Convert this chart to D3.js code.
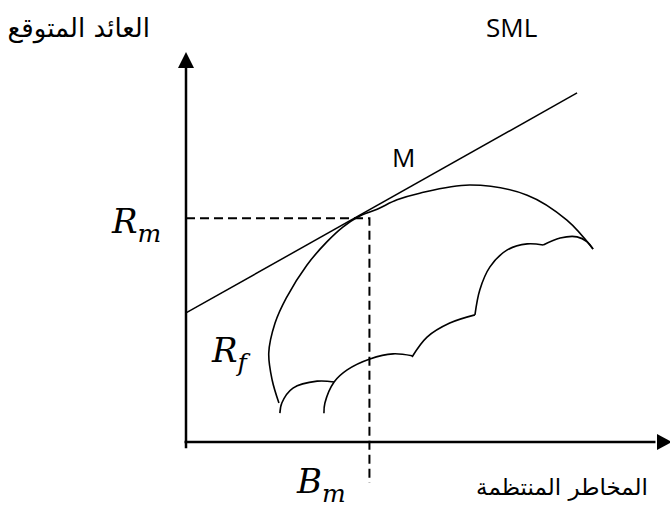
<!DOCTYPE html>
<html>
<head>
<meta charset="utf-8">
<script src="https://cdn.jsdelivr.net/npm/d3@7"></script>
<style>
    body { margin: 0; background: #fff; }
    .arabic { font-family: "DejaVu Sans", sans-serif; fill: #000; }
    .latin { font-family: "Open Sans", sans-serif; fill: #000; }
    .math { font-family: "DejaVu Serif", serif; font-style: italic; fill: #000; }
</style>
</head>
<body>
<script>
// risk (x) and expected return (y) in arbitrary units 0..100

var smlLine = [[0, 33.1], [80.8, 89.5]];

var rf = 33.1, rm = 57.4, bm = 37.9;

//efficient frontier, from bottom left over the top to the tip
var frontier = [
    [19.2, 10.0], [17.8, 15.9], [17.1, 22.8], [18.4, 30.5], [20.7, 36.9],
    [25.0, 45.4], [29.1, 51.3], [32.4, 55.1], [35.5, 57.7], [39.5, 59.7],
    [43.6, 62.1], [48.3, 63.8], [58.7, 65.9], [70.5, 63.3], [78.7, 56.9],
    [84.1, 49.5]
];

//lower scalloped boundary of the feasible set, one array per arc
var arcA = [[84.1, 49.5], [82.9, 51.3], [80.8, 52.6], [77.3, 52.3], [73.8, 50.5]];
var arcB = [[73.8, 50.5], [70.5, 50.8], [66.3, 49.2], [62.8, 44.9], [60.7, 39.0], [59.7, 32.6]];
var arcC = [[59.7, 32.6], [54.5, 30.5], [49.8, 26.9], [46.7, 21.8]];
var arcD = [[46.7, 22.1], [42.8, 22.6], [38.0, 21.3], [33.3, 18.5], [30.6, 15.4], [28.7, 10.0], [28.5, 7.4]];
var arcE = [[30.6, 15.4], [27.1, 15.6], [22.1, 13.8], [19.8, 10.0], [19.4, 7.4]];

var yTitle = "العائد المتوقع";
var xTitle = "المخاطر المنتظمة";

window.onload = function(){

    var w = 670, h = 509;

    var x = d3.scaleLinear()
        .domain([0, 100])
        .range([186, 670]);

    var y = d3.scaleLinear()
        .domain([0, 100])
        .range([442, 52]);

    var svg = d3.select("body")
        .append("svg")
        .attr("width", w)
        .attr("height", h);

    var line = d3.line()
        .x(function(d){ return x(d[0]); })
        .y(function(d){ return y(d[1]); });

    var smooth = d3.line()
        .x(function(d){ return x(d[0]); })
        .y(function(d){ return y(d[1]); })
        .curve(d3.curveCatmullRom.alpha(0.5));

    //axes
    svg.append("line")
        .attr("x1", x(0)).attr("y1", y(-1.6))
        .attr("x2", x(0)).attr("y2", y(96))
        .style("stroke", "#000")
        .style("stroke-width", 2.5);

    svg.append("line")
        .attr("x1", x(-0.3)).attr("y1", y(0))
        .attr("x2", x(97)).attr("y2", y(0))
        .style("stroke", "#000")
        .style("stroke-width", 2.5);

    //arrow heads
    svg.append("path")
        .attr("d", "M" + x(0) + "," + y(100) +
            "L" + (x(0) - 8) + "," + (y(100) + 16) +
            "L" + (x(0) + 8) + "," + (y(100) + 16) + "Z")
        .style("fill", "#000");

    svg.append("path")
        .attr("d", "M" + (x(100) + 2) + "," + y(0) +
            "L" + (x(100) - 13) + "," + (y(0) - 8) +
            "L" + (x(100) - 13) + "," + (y(0) + 8) + "Z")
        .style("fill", "#000");

    //dashed guides to the market portfolio
    svg.append("path")
        .attr("d", line([[0, rm], [bm, rm], [bm, -10.5]]))
        .style("fill", "none")
        .style("stroke", "#000")
        .style("stroke-width", 2)
        .style("stroke-dasharray", "9,5");

    //security market line
    svg.append("path")
        .attr("d", line(smlLine))
        .style("fill", "none")
        .style("stroke", "#000")
        .style("stroke-width", 1.5);

    //frontier and scallops
    svg.selectAll(".curve")
        .data([frontier, arcA, arcB, arcC, arcD, arcE])
        .enter()
        .append("path")
        .attr("class", "curve")
        .attr("d", smooth)
        .style("fill", "none")
        .style("stroke", "#000")
        .style("stroke-width", 1.6);

    //labels
    svg.append("text")
        .attr("class", "arabic")
        .attr("text-anchor", "end")
        .attr("x", 150)
        .attr("y", 37)
        .style("font-size", "26px")
        .text(yTitle);

    svg.append("text")
        .attr("class", "arabic")
        .attr("text-anchor", "end")
        .attr("x", 648)
        .attr("y", 495)
        .style("font-size", "23px")
        .text(xTitle);

    svg.append("text")
        .attr("class", "latin")
        .attr("x", 486)
        .attr("y", 37)
        .style("font-size", "26px")
        .text("SML");

    svg.append("text")
        .attr("class", "latin")
        .attr("x", 392)
        .attr("y", 167)
        .style("font-size", "26px")
        .text("M");

    function mathLabel(px, py, main, sub){
        var t = svg.append("text")
            .attr("class", "math")
            .attr("x", px)
            .attr("y", py)
            .style("font-size", "34px");
        t.append("tspan").text(main);
        t.append("tspan")
            .attr("dy", 9)
            .style("font-size", "25px")
            .text(sub);
    }

    mathLabel(112, y(rm) + 15, "R", "m");
    mathLabel(212, y(rf) + 49, "R", "f");
    mathLabel(297, 493, "B", "m");
};
</script>
</body>
</html>
